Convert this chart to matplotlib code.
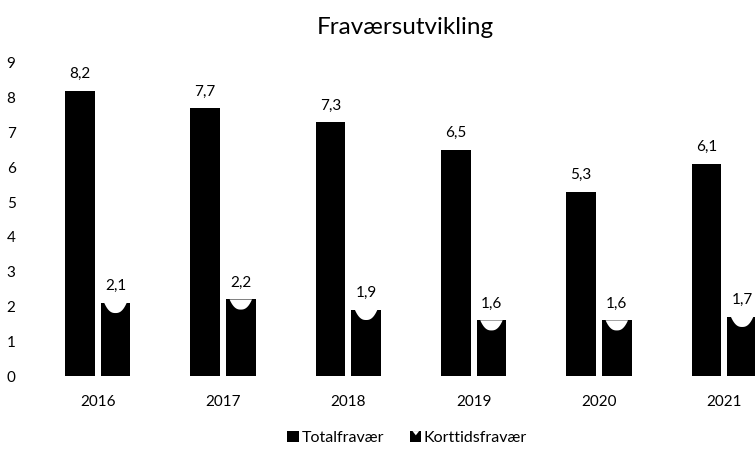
import numpy as np
import matplotlib
matplotlib.use('Agg')
import matplotlib.pyplot as plt
from matplotlib.patches import Rectangle, Polygon, Patch
from matplotlib.legend_handler import HandlerBase

matplotlib.rcParams['font.family'] = ['Lato', 'DejaVu Sans']

years = ['2016', '2017', '2018', '2019', '2020', '2021']
totalfravaer = [8.2, 7.7, 7.3, 6.5, 5.3, 6.1]
korttidsfravaer = [2.1, 2.2, 1.9, 1.6, 1.6, 1.7]
yticks = list(range(0, 10))


def fmt(v):
    return f'{v:.1f}'.replace('.', ',')


class NotchHandler(HandlerBase):
    # legend icon: black square with a white notch on top
    def create_artists(self, legend, orig_handle, xdescent, ydescent,
                       width, height, fontsize, trans):
        s = height * 0.95
        x0 = width - s
        y0 = -ydescent + (height - s) / 2
        sq = Rectangle((x0, y0), s, s, facecolor='black', edgecolor='none', transform=trans)
        notch = Polygon([(x0 + 0.2 * s, y0 + s), (x0 + 0.8 * s, y0 + s),
                         (x0 + 0.5 * s, y0 + 0.62 * s)],
                        facecolor='white', edgecolor='none', transform=trans)
        return [sq, notch]


fig = plt.figure(figsize=(7.55, 4.49), dpi=100)
# plot area is wider than the visible picture (right side is cut off)
ax = fig.add_axes([35 / 755, 73 / 449, 752 / 755, 313 / 449])

x = np.arange(len(years))
w = 0.235
off = 0.142

ax.bar(x - off, totalfravaer, w, color='black')
ax.bar(x + off, korttidsfravaer, w, color='black')

# white notch on top of the short-term bars
t = np.linspace(-1, 1, 41)
for xi, h in zip(x + off, korttidsfravaer):
    px = xi + t * 0.38 * w
    py = h - 0.29 * (1 - np.abs(t) ** 2.5)
    pts = list(zip(px, py))
    poly = Polygon(pts, closed=True, facecolor='white', edgecolor='none', zorder=3)
    ax.add_patch(poly)

for xi, v in zip(x - off, totalfravaer):
    ax.annotate(fmt(v), (xi, v), xytext=(0, 7), textcoords='offset points',
                ha='center', va='bottom', fontsize=11)
for xi, v in zip(x + off, korttidsfravaer):
    ax.annotate(fmt(v), (xi, v), xytext=(0, 7), textcoords='offset points',
                ha='center', va='bottom', fontsize=11)

ax.set_xlim(-0.5, len(years) - 0.5)
ax.set_ylim(0, 9)
ax.set_yticks(yticks)
ax.set_xticks(x)
ax.set_xticklabels(years)
ax.tick_params(axis='y', length=0, pad=14, labelsize=11)
ax.tick_params(axis='x', length=0, pad=14, labelsize=11)
for sp in ax.spines.values():
    sp.set_visible(False)

fig.text(405 / 755, 1 - 27 / 449, 'Fraværsutvikling', ha='center', va='center', fontsize=17.5)

h1 = Patch(facecolor='black')
h2 = Patch(facecolor='black')
fig.legend([h1, h2], ['Totalfravær', 'Korttidsfravær'],
           handler_map={h2: NotchHandler()},
           loc='center', bbox_to_anchor=(407 / 755, 1 - 438 / 449), ncol=2,
           frameon=False, fontsize=11.5, handlelength=0.75, handleheight=0.75,
           handletextpad=0.15, columnspacing=1.6)

fig.savefig('out.png', dpi=100)
